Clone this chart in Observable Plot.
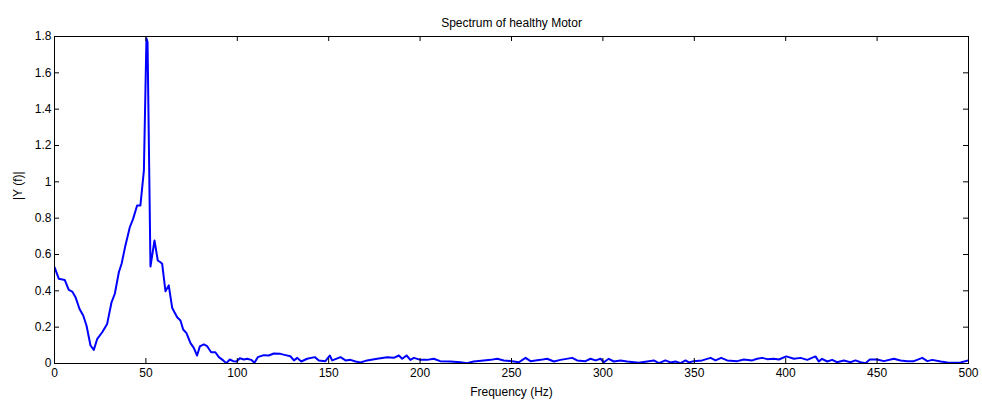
<!DOCTYPE html>
<html>
<head>
<meta charset="utf-8">
<script src="https://cdn.jsdelivr.net/npm/d3@7"></script>
<script src="https://cdn.jsdelivr.net/npm/@observablehq/plot@0.6"></script>
<style>
  html, body { margin: 0; padding: 0; background: #fff; }
  #chart svg { display: block; }
</style>
</head>
<body>
<div id="chart"></div>
<script>
const titleText = "Spectrum of healthy Motor";
const xLabel = "Frequency (Hz)";
const yLabel = "|Y (f)|";
const xTicks = [0, 50, 100, 150, 200, 250, 300, 350, 400, 450, 500];
const yTicks = [0, 0.2, 0.4, 0.6, 0.8, 1, 1.2, 1.4, 1.6, 1.8];
const yTickLabels = ["0", "0.2", "0.4", "0.6", "0.8", "1", "1.2", "1.4", "1.6", "1.8"];

const freq = [0,2.4,5.6,7.8,9.7,11.5,13.7,15.7,17.5,19.7,21.5,23.4,26.1,28.8,31.2,33,35.2,36.7,38.8,41.2,43,45.2,47,48.9,50.3,50.9,52.5,54.7,56.5,57.6,58.9,60.7,62.5,64.4,67.1,68.9,70.4,72.2,74.4,76.2,78,79.5,81.7,83.5,85.7,88,89.9,92.3,94,95.9,97.8,99.6,101.4,103.6,105.4,107.6,109.4,111.2,114.5,117.2,120,123.6,126.4,129,131,132.8,135,138.2,142.4,144.6,148.2,150.6,151.9,156.5,159.2,161.9,164.7,167.4,171,176.5,182,185.6,188.4,190.2,192.6,194.7,196.6,200.2,203.8,207.5,211,216.6,222,225.7,229.3,234.8,238.5,242.2,245.8,251.3,254,257.7,260.4,265.9,269.5,273.2,276.8,283.2,285.9,290.5,293.2,296,298.7,300.5,303.2,306,309.6,313.3,319.6,324.2,327.9,330.6,334.2,337,339.7,342.5,345.2,347,349.7,354.3,358.9,361.6,364.7,368,373.5,377.1,381.7,384.4,387.2,389.9,393.5,396.3,400.3,404.5,408.1,411.8,416.3,418.1,419.9,422.7,425.4,428.1,431.8,435.4,438.2,440.9,443.7,446,450,453.7,459.2,462.8,466.5,470.1,474.7,477.5,480.2,484.8,488.4,492,495.7,500];
const magnitude = [0.53,0.466,0.46,0.405,0.396,0.365,0.30,0.264,0.209,0.099,0.075,0.136,0.172,0.218,0.337,0.384,0.502,0.549,0.65,0.75,0.796,0.87,0.87,1.062,1.79,1.77,0.534,0.677,0.567,0.56,0.549,0.398,0.43,0.305,0.255,0.237,0.187,0.167,0.112,0.086,0.044,0.094,0.105,0.095,0.062,0.062,0.035,0.017,0.002,0.022,0.013,0.011,0.029,0.022,0.026,0.02,0.004,0.035,0.046,0.044,0.055,0.053,0.046,0.04,0.017,0.031,0.011,0.026,0.035,0.017,0.013,0.044,0.017,0.035,0.017,0.02,0.011,0.006,0.017,0.026,0.035,0.031,0.044,0.026,0.044,0.02,0.031,0.02,0.02,0.026,0.013,0.011,0.007,0.002,0.011,0.017,0.02,0.026,0.017,0.011,0.007,0.031,0.013,0.02,0.026,0.011,0.02,0.031,0.017,0.013,0.026,0.017,0.026,0.007,0.026,0.011,0.017,0.011,0.004,0.011,0.017,0.002,0.017,0.006,0.011,0.002,0.017,0.006,0.013,0.017,0.031,0.017,0.031,0.017,0.013,0.022,0.017,0.026,0.031,0.024,0.026,0.022,0.039,0.026,0.031,0.02,0.039,0.011,0.026,0.011,0.02,0.007,0.017,0.007,0.017,0.007,0.002,0.022,0.022,0.013,0.026,0.017,0.013,0.013,0.031,0.013,0.02,0.011,0.006,0.004,0.006,0.017];

const data = freq.map((f, i) => ({f, v: magnitude[i]}));

const W = 982, H = 405;
const mL = 54, mR = 14, mT = 36, mB = 42;
const fw = W - mL - mR, fh = H - mT - mB;
const tl = 5;

const chart = Plot.plot({
  width: W,
  height: H,
  marginLeft: mL,
  marginRight: mR,
  marginTop: mT,
  marginBottom: mB,
  style: {fontFamily: "'Liberation Sans', Arial, sans-serif", fontSize: "12px", color: "#000", background: "#fff"},
  x: {domain: [0, 500]},
  y: {domain: [0, 1.8]},
  marks: [
    Plot.line(data, {x: "f", y: "v", stroke: "#0000ff", strokeWidth: 2, clip: true}),
    Plot.frame({stroke: "#000", strokeWidth: 1}),
    Plot.tickX(xTicks, {x: d => d, insetTop: fh - tl, stroke: "#000"}),
    Plot.tickX(xTicks, {x: d => d, insetBottom: fh - tl, stroke: "#000"}),
    Plot.tickY(yTicks, {y: d => d, insetRight: fw - tl, stroke: "#000"}),
    Plot.tickY(yTicks, {y: d => d, insetLeft: fw - tl, stroke: "#000"}),
    Plot.axisX({ticks: xTicks, tickSize: 0, tickPadding: 5, tickFormat: d => String(d), label: null, fontSize: 12}),
    Plot.axisY({ticks: yTicks, tickSize: 0, tickPadding: 3, tickFormat: (d, i) => yTickLabels[yTicks.indexOf(d)], label: null, fontSize: 12}),
    Plot.text([titleText], {frameAnchor: "top", dy: -18, fontSize: 12, fill: "#000"}),
    Plot.text([xLabel], {frameAnchor: "bottom", dy: 32, fontSize: 12, fill: "#000"}),
    Plot.text([yLabel], {frameAnchor: "left", dx: -36, rotate: -90, fontSize: 12, fill: "#000"})
  ]
});
document.getElementById("chart").appendChild(chart);
</script>
</body>
</html>
